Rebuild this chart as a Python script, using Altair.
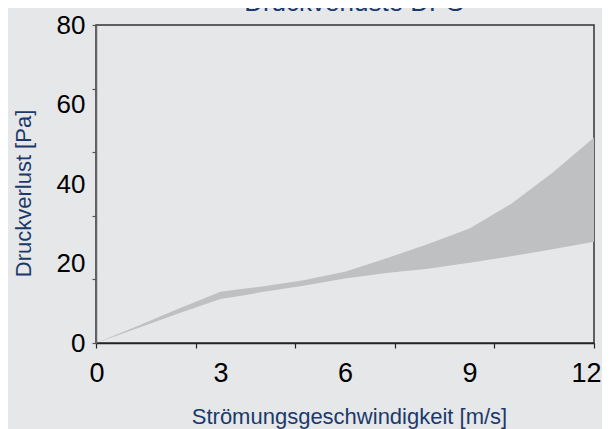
import altair as alt
import pandas as pd

# Data (velocity in m/s, pressure loss in Pa)
speed = [0, 1, 2, 3, 3.5, 4, 5, 6, 7, 8, 9, 10, 11, 12]
loss_low = [0, 3.7, 7.5, 11.1, 11.9, 12.8, 14.4, 16.2, 17.6, 18.7, 20.2, 21.8, 23.6, 25.5]
loss_high = [0, 4.3, 8.7, 12.9, 13.6, 14.2, 15.8, 17.9, 21.3, 24.9, 28.8, 35.0, 42.8, 51.7]

x_label_values = [0, 3, 6, 9, 12]
x_tick_values = [0, 2.4, 4.8, 7.2, 9.6, 12]
y_label_values = [0, 20, 40, 60, 80]
y_tick_values = [0, 16, 32, 48, 64, 80]

FONT = "Liberation Sans"
NAVY = "#1b3a6b"
BG = "#e6e7e9"

df = pd.DataFrame({"speed": speed, "low": loss_low, "high": loss_high})

xs = alt.Scale(domain=[0, 12], nice=False, zero=True)
ys = alt.Scale(domain=[0, 80], nice=False, zero=True)

band = alt.Chart(df).mark_area(color="#bfc0c2", opacity=1).encode(
    x=alt.X("speed:Q", scale=xs, axis=alt.Axis(
        orient="bottom", values=x_label_values, ticks=False, tickSize=0,
        labelFontSize=27, labelPadding=17, labelFont=FONT, labelColor="#000000",
        labelFlush=True, labelFlushOffset=7, grid=False, domain=True,
        domainColor="#222222", domainWidth=1.5,
        title="Strömungsgeschwindigkeit [m/s]", titleFont=FONT, titleFontSize=22,
        titleFontWeight="normal", titleColor=NAVY, titleX=253, titleY=80,
        titleBaseline="alphabetic", titleAlign="center")),
    y=alt.Y("low:Q", scale=ys, axis=alt.Axis(
        orient="left", values=y_label_values, ticks=False, tickSize=0,
        labelFontSize=26, labelPadding=11, labelFont=FONT, labelColor="#000000",
        labelFlush=False, grid=False, domain=True, domainColor="#666666", domainWidth=1.5,
        title="Druckverlust [Pa]", titleFont=FONT, titleFontSize=22,
        titleFontWeight="normal", titleColor=NAVY, titleX=-66, titleY=168,
        titleAngle=270, titleBaseline="alphabetic", titleAlign="center")),
    y2="high:Q",
)

ticks = alt.Chart(df).mark_area(opacity=0).encode(
    x=alt.X("speed:Q", scale=xs, axis=alt.Axis(
        orient="bottom", values=x_tick_values, labels=False, ticks=True, tickSize=5,
        tickColor="#222222", tickWidth=1.2, grid=False, domain=False, title=None)),
    y=alt.Y("low:Q", scale=ys, axis=alt.Axis(
        orient="left", values=y_tick_values, labels=False, ticks=True, tickSize=4,
        tickColor="#555555", tickWidth=1.2, grid=False, domain=False, title=None)),
    y2="high:Q",
)

chart = alt.layer(band, ticks).resolve_scale(
    x="shared", y="shared"
).resolve_axis(
    x="independent", y="independent"
).properties(
    width=498,
    height=318,
    title=alt.TitleParams(
        "Druckverluste DPS", font=FONT, fontSize=26, fontWeight="normal",
        color=NAVY, anchor="middle", frame="group", dx=9, offset=-25,
        baseline="alphabetic"),
    padding={"left": 88, "top": 17, "right": 8, "bottom": 86},
    autosize=alt.AutoSizeParams(type="none"),
    background=BG,
).configure_view(stroke="#333333", strokeWidth=1.5)

chart.save("out.html", embed_options={"renderer": "svg", "actions": False})
